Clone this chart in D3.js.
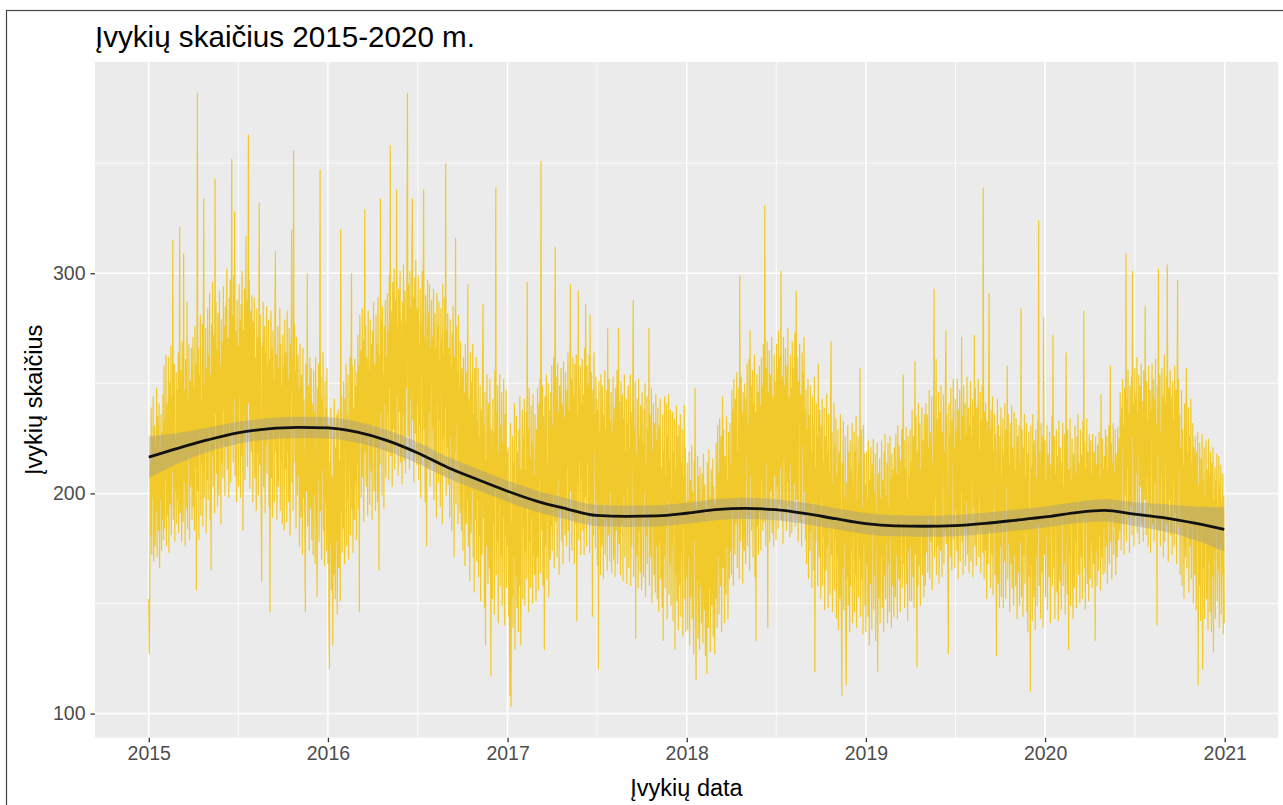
<!DOCTYPE html>
<html>
<head>
<meta charset="utf-8">
<title>Įvykių skaičius 2015-2020 m.</title>
<script src="https://cdn.jsdelivr.net/npm/d3@7/dist/d3.min.js"></script>
<style>
  html, body { margin: 0; padding: 0; background: #ffffff; }
  svg { display: block; font-family: "Liberation Sans", Arial, Helvetica, sans-serif; }
</style>
</head>
<body>
<svg id="chart" width="1283" height="805"></svg>
<script>
// Daily event counts, one array per year (starting 1 January).
const counts2015 = [
  152,127,158,214,181,239,172,226,198,244,169,207,231,176,221,192,248,171,235,203,183,241,166,219,197,236,174,228,188,245,179,
  258,184,233,206,263,176,241,219,190,262,173,228,251,195,267,181,244,210,315,188,236,259,178,224,201,255,186,247,
  197,264,182,238,321,191,256,214,178,269,223,187,309,205,247,176,261,230,193,287,184,242,218,268,179,251,203,236,266,188,229,
  271,194,248,183,276,212,259,156,238,382,201,266,179,254,227,281,190,243,214,277,185,262,334,198,249,221,275,182,257,206,
  284,197,263,229,291,188,254,165,277,218,296,203,248,272,191,343,236,287,209,265,194,282,243,199,292,224,258,186,279,214,269,
  207,294,238,276,199,285,221,263,302,211,271,246,198,289,232,297,205,258,352,226,281,214,299,243,328,208,274,253,196,288,
  231,267,203,295,244,279,198,286,217,301,252,183,274,236,293,206,265,317,229,288,212,276,363,241,297,202,259,283,219,290,247,
  196,278,234,289,207,262,243,192,284,218,271,199,256,332,213,281,238,195,160,267,229,287,203,252,276,191,264,222,285,209,258,
  232,279,194,261,146,248,283,207,266,189,274,228,251,196,281,310,219,263,188,245,276,203,257,231,284,192,268,215,249,186,
  272,226,258,183,279,211,264,240,187,283,219,252,196,275,233,181,268,247,320,205,261,192,356,229,277,214,256,184,271,238,199,
  263,208,247,176,268,221,189,254,234,172,266,198,243,215,182,146,259,227,201,300,185,249,236,174,262,210,193,257,179,241,
  218,172,256,199,237,168,262,224,185,153,248,206,259,178,231,347,192,253,170,243,211,264,183,228,167,251,196,239,174,257,205
];
const counts2016 = [
  168,231,142,120,214,177,239,156,208,189,131,226,163,243,197,152,221,178,236,145,203,238,166,215,184,151,320,192,244,173,229,
  184,251,203,168,243,221,259,176,236,197,254,170,228,212,262,181,247,300,193,258,173,239,216,188,261,205,249,179,255,
  214,272,193,258,146,281,229,265,198,244,284,207,270,187,251,329,219,276,203,262,237,190,283,226,256,195,279,241,210,268,188,
  274,232,287,201,259,243,192,281,221,268,196,289,250,165,263,213,334,237,278,199,285,226,254,193,276,241,288,207,262,219,
  291,236,274,206,299,248,358,217,283,261,203,296,229,271,302,211,257,288,223,338,245,276,208,293,237,266,301,214,279,252,204,
  287,236,304,215,269,292,209,278,248,307,382,226,295,258,211,301,243,284,219,310,334,233,289,205,276,298,227,306,252,213,
  284,241,299,206,268,231,293,198,276,254,301,218,287,338,229,271,196,290,244,176,263,297,211,282,237,295,203,266,249,288,214,
  271,229,293,197,258,282,213,266,189,291,241,276,205,287,233,260,194,284,248,270,186,295,226,263,208,289,239,350,199,274,221,
  282,204,266,237,189,279,226,258,183,273,211,285,243,171,262,219,316,195,276,232,255,186,281,214,248,191,269,228,183,257,
  239,174,262,208,246,167,268,221,186,255,197,295,176,243,213,160,264,229,182,251,201,268,171,236,155,257,214,188,262,169,233,
  197,257,162,226,181,249,151,238,205,172,259,286,189,231,148,246,131,215,176,254,193,159,241,208,166,252,184,117,229,198,
  152,243,186,228,145,256,201,339,163,237,178,249,141,218,195,254,158,231,172,246,149,223,189,252,168,140,236,181,247,157,219
];
const counts2017 = [
  176,221,144,198,133,108,232,103,187,153,226,139,214,171,241,129,203,162,235,148,219,182,137,229,158,244,176,131,211,195,238,
  152,226,185,243,149,211,174,237,161,296,193,229,146,248,178,216,157,240,189,223,150,245,172,208,163,236,186,151,
  229,171,248,193,156,241,207,252,164,351,218,183,249,158,235,197,129,244,176,227,254,161,213,189,250,153,238,202,170,246,185,
  258,174,231,199,262,166,245,312,187,253,215,171,259,206,237,163,249,192,226,257,178,241,212,168,260,197,234,181,255,221,
  176,247,212,264,183,238,169,257,295,201,252,174,233,262,190,244,168,259,221,186,263,142,236,204,292,179,248,215,258,172,241,
  207,261,183,245,226,172,266,198,286,239,176,258,214,249,187,263,173,281,228,192,255,209,144,247,181,264,219,236,175,253,
  196,243,167,238,120,251,184,228,163,254,207,176,249,219,161,236,195,256,172,229,188,247,165,275,210,181,252,169,233,201,246,
  164,228,191,253,170,239,207,162,248,183,231,256,168,215,275,177,242,196,163,251,186,226,245,160,234,199,254,171,219,188,243,
  159,232,203,249,166,221,188,254,158,237,176,213,245,288,162,229,194,251,134,218,172,243,205,157,252,183,226,164,240,197,
  156,246,189,223,162,238,201,250,153,214,181,244,168,229,192,275,158,236,207,171,248,150,219,185,241,163,232,198,155,245,176,
  224,152,239,193,146,231,178,243,161,212,187,148,236,133,219,171,244,157,208,184,241,143,226,197,245,154,215,168,238,149,
  203,176,237,142,219,188,234,129,211,163,240,151,226,182,138,231,197,158,236,144,214,173,229,135,208,185,240,152,221,137,196
];
const counts2018 = [
  162,214,138,197,171,219,131,206,153,188,222,143,201,166,127,215,179,248,148,115,193,160,217,134,208,176,129,212,158,196,141,
  209,168,132,218,183,147,204,126,191,162,118,214,173,139,220,157,198,128,186,211,149,177,216,135,203,164,127,195,
  152,223,186,139,231,171,209,145,234,193,158,226,137,214,244,166,229,181,141,217,196,154,235,176,206,143,228,189,161,232,174,
  213,163,247,196,238,158,252,207,172,243,186,231,255,166,219,198,248,161,299,226,178,253,191,237,159,246,211,174,250,202,
  168,243,217,259,176,232,190,261,165,274,208,249,183,227,256,171,241,199,263,162,237,133,218,254,185,246,172,229,258,193,240,
  174,262,206,249,183,268,221,187,331,238,176,257,214,269,139,246,193,265,178,233,254,201,271,182,244,219,176,263,208,251,
  226,179,268,203,257,184,274,231,195,262,212,301,188,253,239,177,271,216,249,191,266,228,183,258,205,275,194,244,221,180,263,
  213,248,182,269,226,191,257,204,273,185,240,292,197,262,218,178,251,233,268,187,245,209,176,264,222,255,190,271,201,238,179,
  247,168,229,193,252,161,236,205,174,249,183,219,157,244,196,231,165,253,119,212,178,241,189,226,158,259,203,171,238,186,
  152,231,197,243,158,214,181,239,147,226,203,165,245,176,219,148,236,191,209,154,243,269,172,228,146,204,187,241,156,222,179,
  234,143,208,171,229,138,196,219,152,236,183,141,108,214,166,233,147,198,177,226,139,113,205,162,231,149,219,184,137,224,
  158,211,174,232,141,203,187,228,146,219,163,235,139,197,182,226,153,214,171,257,144,208,229,161,193,136,231,176,218,149,204
];
const counts2019 = [
  137,219,168,197,144,224,181,131,206,159,221,173,138,213,189,225,147,201,163,218,133,192,177,223,119,209,152,186,216,141,198,
  171,224,148,206,186,137,219,163,227,152,199,178,214,141,223,169,193,146,226,182,207,139,218,158,211,174,144,221,
  186,153,227,172,209,143,231,196,161,222,178,146,215,189,229,157,203,254,168,224,148,211,183,230,159,198,142,226,174,207,151,
  229,176,214,151,238,193,162,226,148,207,260,172,235,185,121,219,158,241,197,167,232,149,211,186,239,163,224,178,153,236,
  192,158,241,207,173,236,164,221,189,247,161,228,203,178,244,156,214,185,239,293,171,226,198,261,163,234,209,176,246,159,218,
  237,174,249,196,162,228,211,245,168,219,183,251,274,177,236,204,163,127,241,189,226,171,248,198,165,233,214,252,179,221,
  166,243,192,229,174,252,207,161,238,186,247,169,224,201,271,178,235,163,249,212,184,241,167,227,196,253,172,218,239,164,231,
  188,251,169,226,207,243,162,235,194,272,176,248,215,167,239,183,228,252,171,219,198,246,164,233,186,249,173,339,205,161,237,
  174,241,198,152,233,212,168,246,291,183,229,157,238,196,172,244,154,219,205,236,163,227,181,126,214,243,159,231,188,148,
  226,176,239,153,207,191,234,148,218,169,241,186,152,229,203,258,161,236,177,213,146,232,194,168,240,157,221,183,149,237,172,
  211,158,234,186,143,226,197,164,231,149,214,178,284,153,229,191,144,221,172,236,159,207,183,232,146,218,137,201,228,162,
  193,110,231,167,212,142,236,181,153,224,198,138,229,171,207,149,233,186,324,158,219,176,143,232,195,164,226,139,280,203,172
];
const counts2020 = [
  224,153,206,181,231,147,218,196,162,228,174,141,213,189,235,158,272,201,166,226,143,209,184,229,155,217,171,142,233,193,160,
  221,176,147,214,191,232,158,203,168,227,145,219,264,183,154,229,196,129,211,172,234,149,206,186,225,161,143,218,194,
  157,231,178,209,148,226,197,236,163,214,185,150,229,171,218,204,152,233,189,283,166,223,147,211,195,234,159,219,178,151,227,
  192,161,224,178,209,157,227,186,168,219,199,133,226,174,213,158,222,191,165,228,181,207,156,245,189,171,225,163,211,184,
  217,164,229,192,176,226,159,211,187,231,168,204,258,178,223,161,214,196,232,172,209,185,229,163,218,193,171,230,206,179,225,
  183,246,207,174,239,221,252,186,231,172,248,199,227,309,178,243,212,256,189,236,173,249,218,194,253,181,301,226,241,176,
  228,257,191,244,209,262,182,236,218,254,177,249,203,231,259,186,242,213,178,256,224,197,285,238,181,251,207,233,176,258,219,
  194,247,173,238,226,259,186,214,252,178,243,205,261,191,232,140,249,217,302,183,236,254,176,228,209,257,188,244,171,231,263,
  178,241,214,253,186,304,227,169,248,197,236,256,181,219,244,172,251,206,233,176,258,191,226,247,168,239,297,185,252,211,
  236,163,221,192,247,158,229,184,213,152,241,197,171,233,257,166,218,189,239,155,226,204,176,243,161,214,186,232,150,221,195,
  163,226,181,147,219,197,228,113,204,158,223,174,142,216,189,227,120,206,166,221,143,199,178,224,152,211,186,138,225,169,
  208,146,219,183,137,214,162,221,128,197,174,212,143,206,186,218,151,193,165,217,139,204,178,213,145,196,163,209,136,199,141
];

// Fitted trend with its standard-error half width.
const smoothDates = [
  "2015-01-01","2015-03-01","2015-05-01","2015-07-01","2015-09-01","2015-11-01",
  "2016-01-01","2016-03-01","2016-05-01","2016-07-01","2016-09-01","2016-11-01",
  "2017-01-01","2017-03-01","2017-05-01","2017-07-01","2017-09-01","2017-11-01",
  "2018-01-01","2018-03-01","2018-05-01","2018-07-01","2018-09-01","2018-11-01",
  "2019-01-01","2019-03-01","2019-05-01","2019-07-01","2019-09-01","2019-11-01",
  "2020-01-01","2020-03-01","2020-05-01","2020-07-01","2020-09-01","2020-11-01","2020-12-31"
];
const smoothFit = [
  216.5,220.5,224.3,227.5,229.3,230.0,
  229.8,227.8,224.0,218.5,211.8,206.3,
  201.0,196.5,193.0,190.0,189.6,189.8,
  191.0,192.6,193.2,192.6,190.8,188.5,
  186.3,185.3,185.1,185.4,186.4,187.8,
  189.3,191.2,192.3,190.6,188.9,186.5,183.7
];
const smoothSe = [
  9.5,7.0,5.5,5.0,4.8,4.8,
  4.8,4.8,4.8,4.8,4.8,4.8,
  4.8,4.8,4.8,4.8,4.8,4.8,
  4.8,4.8,4.8,4.8,4.8,4.8,
  4.8,4.8,4.8,4.8,4.8,4.8,
  4.8,4.8,5.0,5.4,6.2,7.6,10.0
];

const yearTicks = [2015, 2016, 2017, 2018, 2019, 2020, 2021];
const valueTicks = [100, 200, 300];
const valueMinorTicks = [150, 250, 350];

const titleText = "Įvykių skaičius 2015-2020 m.";
const xTitle = "Įvykių data";
const yTitle = "Įvykių skaičius";

// ---- assemble series ----
const counts = [].concat(counts2015, counts2016, counts2017, counts2018, counts2019, counts2020);
const startDay = new Date(Date.UTC(2015, 0, 1));
const series = counts.map((v, i) => ({ date: d3.utcDay.offset(startDay, i), value: v }));
const smooth = smoothDates.map((s, i) => ({
  date: d3.utcParse("%Y-%m-%d")(s), fit: smoothFit[i], se: smoothSe[i]
}));

// ---- layout ----
const panel = { left: 95, right: 1278, top: 62, bottom: 737.7 };
const svg = d3.select("#chart");

// outer frame
svg.append("rect")
  .attr("x", 6.5).attr("y", 10.5)
  .attr("width", 1300).attr("height", 820)
  .attr("fill", "#ffffff").attr("stroke", "#444444").attr("stroke-width", 1.2);

// scales with 5% padding on both ends
const [dMin, dMax] = d3.extent(series, d => d.date);
const dSpan = dMax - dMin;
const x = d3.scaleUtc()
  .domain([new Date(+dMin - dSpan * 0.05), new Date(+dMax + dSpan * 0.05)])
  .range([panel.left, panel.right]);

const [vMin, vMax] = d3.extent(series, d => d.value);
const vSpan = vMax - vMin;
const y = d3.scaleLinear()
  .domain([vMin - vSpan * 0.05, vMax + vSpan * 0.05])
  .range([panel.bottom, panel.top]);

const yearDate = yr => new Date(Date.UTC(yr, 0, 1));

// panel background
svg.append("rect")
  .attr("x", panel.left).attr("y", panel.top)
  .attr("width", panel.right - panel.left).attr("height", panel.bottom - panel.top)
  .attr("fill", "#EBEBEB");

const grid = svg.append("g");
// minor grid
valueMinorTicks.forEach(v => {
  grid.append("line")
    .attr("x1", panel.left).attr("x2", panel.right)
    .attr("y1", y(v)).attr("y2", y(v))
    .attr("stroke", "#ffffff").attr("stroke-width", 0.8);
});
d3.pairs(yearTicks).forEach(([a, b]) => {
  const mid = new Date((+yearDate(a) + +yearDate(b)) / 2);
  grid.append("line")
    .attr("x1", x(mid)).attr("x2", x(mid))
    .attr("y1", panel.top).attr("y2", panel.bottom)
    .attr("stroke", "#ffffff").attr("stroke-width", 0.8);
});
// major grid
valueTicks.forEach(v => {
  grid.append("line")
    .attr("x1", panel.left).attr("x2", panel.right)
    .attr("y1", y(v)).attr("y2", y(v))
    .attr("stroke", "#ffffff").attr("stroke-width", 1.5);
});
yearTicks.forEach(yr => {
  grid.append("line")
    .attr("x1", x(yearDate(yr))).attr("x2", x(yearDate(yr)))
    .attr("y1", panel.top).attr("y2", panel.bottom)
    .attr("stroke", "#ffffff").attr("stroke-width", 1.5);
});

// clip to panel
svg.append("clipPath").attr("id", "panelClip")
  .append("rect")
  .attr("x", panel.left).attr("y", panel.top)
  .attr("width", panel.right - panel.left).attr("height", panel.bottom - panel.top);

const plot = svg.append("g").attr("clip-path", "url(#panelClip)");

// daily counts
plot.append("path")
  .datum(series)
  .attr("fill", "none")
  .attr("stroke", "#F1C92A")
  .attr("stroke-width", 1.2)
  .attr("d", d3.line().x(d => x(d.date)).y(d => y(d.value)));

// confidence ribbon
plot.append("path")
  .datum(smooth)
  .attr("fill", "#999999")
  .attr("fill-opacity", 0.4)
  .attr("d", d3.area()
    .x(d => x(d.date))
    .y0(d => y(d.fit - d.se))
    .y1(d => y(d.fit + d.se))
    .curve(d3.curveMonotoneX));

// trend line
plot.append("path")
  .datum(smooth)
  .attr("fill", "none")
  .attr("stroke", "#111111")
  .attr("stroke-width", 2.8)
  .attr("d", d3.line().x(d => x(d.date)).y(d => y(d.fit)).curve(d3.curveMonotoneX));

// axes
const xAxis = d3.axisBottom(x)
  .tickValues(yearTicks.map(yearDate))
  .tickFormat(d3.utcFormat("%Y"))
  .tickSizeInner(4.5).tickSizeOuter(0).tickPadding(4);
const gx = svg.append("g").attr("transform", `translate(0,${panel.bottom})`).call(xAxis);
gx.select(".domain").remove();
gx.selectAll(".tick line").attr("stroke", "#333333").attr("stroke-width", 1.3);
gx.selectAll(".tick text")
  .attr("fill", "#4D4D4D").attr("font-size", "19.5px")
  .attr("font-family", "'Liberation Sans', Arial, sans-serif");

const yAxis = d3.axisLeft(y)
  .tickValues(valueTicks)
  .tickFormat(d3.format("d"))
  .tickSizeInner(4.5).tickSizeOuter(0).tickPadding(5);
const gy = svg.append("g").attr("transform", `translate(${panel.left},0)`).call(yAxis);
gy.select(".domain").remove();
gy.selectAll(".tick line").attr("stroke", "#333333").attr("stroke-width", 1.3);
gy.selectAll(".tick text")
  .attr("fill", "#4D4D4D").attr("font-size", "19.5px")
  .attr("font-family", "'Liberation Sans', Arial, sans-serif");

// titles
svg.append("text")
  .attr("x", panel.left).attr("y", 47)
  .attr("font-size", "29.6px").attr("fill", "#000000")
  .text(titleText);

svg.append("text")
  .attr("x", (panel.left + panel.right) / 2).attr("y", 796)
  .attr("text-anchor", "middle")
  .attr("font-size", "23.5px").attr("fill", "#000000")
  .text(xTitle);

svg.append("text")
  .attr("transform", `translate(42,${(panel.top + panel.bottom) / 2}) rotate(-90)`)
  .attr("text-anchor", "middle")
  .attr("font-size", "23.5px").attr("fill", "#000000")
  .text(yTitle);
</script>
</body>
</html>
